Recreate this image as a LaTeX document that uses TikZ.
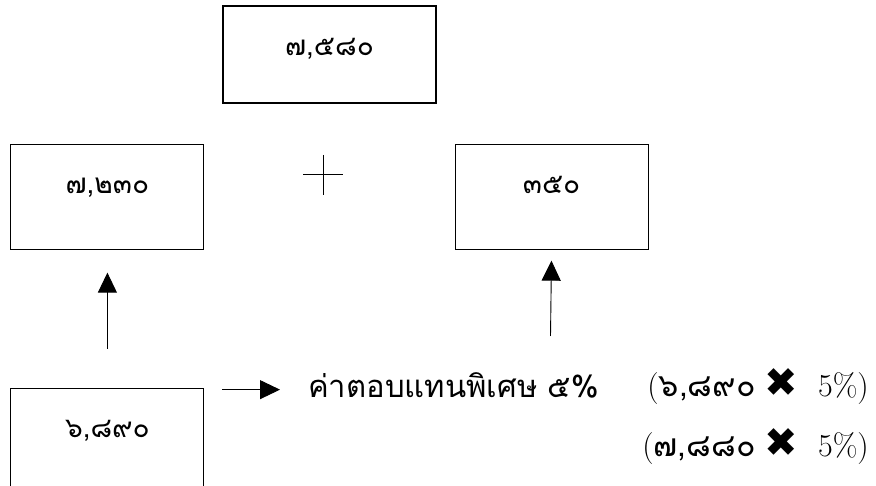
\documentclass[tikz,border=0pt]{standalone}
\usepackage{fontspec}
\newfontfamily\thaifont[Script=Thai]{Loma}
\newfontfamily\symfont{DejaVu Sans}
\usetikzlibrary{positioning,arrows.meta}
\newcommand{\heavyx}{\hspace{9pt}{\symfont\fontsize{40}{40}\selectfont\char"2716}\hspace{20pt}}
\begin{document}
\begin{tikzpicture}[x=1pt,y=-1pt,
  box/.style={draw, line width=1.1pt, inner sep=0pt, minimum width=193pt,
    text height=49pt, text depth=56pt, font=\thaifont\fontsize{28}{32}\selectfont},
  calc/.style={anchor=base east, inner sep=0pt, font=\fontsize{32}{36}\selectfont},
  arr/.style={line width=0.9pt, -{Triangle[length=20pt,width=19pt]}}]
  \useasboundingbox (0,0) rectangle (876,486);
  \node (7580) [box, minimum width=213pt, text height=50pt, text depth=47pt] at (329.5,54.5) {๗,๕๘๐};
  \node (7230) [box, below left=40pt and 18pt of 7580] {๗,๒๓๐};
  \node (350) [box, below right=40pt and 18pt of 7580] {๓๕๐};
  \node (6890) [box, below=138pt of 7230] {๖,๘๙๐};
  \coordinate (plus) at (323,175);
  \draw[line width=1pt] ([xshift=-20pt]plus) -- ([xshift=20pt]plus)
                        ([yshift=20pt]plus) -- ([yshift=-20pt]plus);
  \node (bonus) [anchor=base west, inner sep=0pt, font=\thaifont\fontsize{31}{34}\selectfont]
    at (308,398) {ค่าตอบแทนพิเศษ ๕\%};
  \node (calc1) [calc] at (869,396) {({\thaifont ๖,๘๙๐}\heavyx 5\%)};
  \node (calc2) [calc] at (869,456) {({\thaifont ๗,๘๘๐}\heavyx 5\%)};
  \coordinate (up) at (550.5,336);
  \coordinate (out) at ([xshift=18pt,yshift=-2pt]6890.north east);
  \path[arr] (6890) edge[shorten <=39pt, shorten >=23pt] (7230)
             (up) edge[shorten >=11pt] (350.south)
             (out) edge[shorten >=28pt] (out -| bonus.west)
             ;
\end{tikzpicture}
\end{document}
